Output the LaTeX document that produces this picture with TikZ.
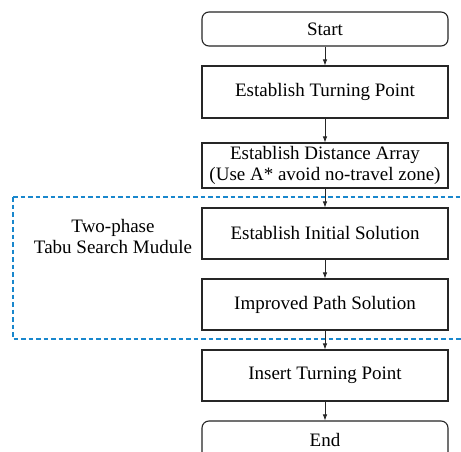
\documentclass[tikz,border=0pt]{standalone}
\usepackage{fontspec}
\setmainfont{Liberation Serif}
\usetikzlibrary{arrows.meta}
\definecolor{moduleblue}{RGB}{25,135,205}
\tikzset{
  flowbox/.style={draw=black!85, line width=1.1pt, minimum width=246pt, inner sep=0pt,
    font=\fontsize{19}{21}\selectfont, align=center},
  termbox/.style={flowbox, rounded corners=7pt},
  flowarrow/.style={draw=black!85, line width=0.8pt, -{Latex[length=6pt,width=4.5pt]}},
  modulebox/.style={draw=moduleblue, line width=1.3pt, dash pattern=on 4.5pt off 3pt},
}
\begin{document}
\begin{tikzpicture}[x=1pt,y=1pt]
\useasboundingbox (0,0) rectangle (461,-452);
\clip (0,0) rectangle (461,-452);
\fill[white] (0,0) rectangle (461,-452);

% process steps
\node[termbox, minimum height=34pt] (start) at (325,-29) {Start};
\node[flowbox, minimum height=52pt] (turn) at (325,-92) {Establish Turning Point};
\node[flowbox, minimum height=45pt] (dist) at (325,-165.5) {Establish Distance Array\\(Use A* avoid no-travel zone)};
\node[flowbox, minimum height=51pt] (init) at (325,-233.5) {Establish Initial Solution};
\node[flowbox, minimum height=51pt] (impr) at (325,-304.5) {Improved Path Solution};
\node[flowbox, minimum height=51pt] (insert) at (325,-375.5) {Insert Turning Point};
\node[termbox, minimum height=38pt] (finish) at (325,-440) {End};

% tabu search module frame
\draw[modulebox] (13,-197) -- (475,-197) (13,-197) -- (13,-339) -- (475,-339);
\node[font=\fontsize{19}{21}\selectfont, align=center] (tabu) at (113,-237) {Two-phase\\Tabu Search Mudule};

% connectors
\draw[flowarrow] (start) -- (turn);
\draw[flowarrow] (turn) -- (dist);
\draw[flowarrow] (dist) -- (init);
\draw[flowarrow] (init) -- (impr);
\draw[flowarrow] (impr) -- (insert);
\draw[flowarrow] (insert) -- (finish);
\end{tikzpicture}
\end{document}
